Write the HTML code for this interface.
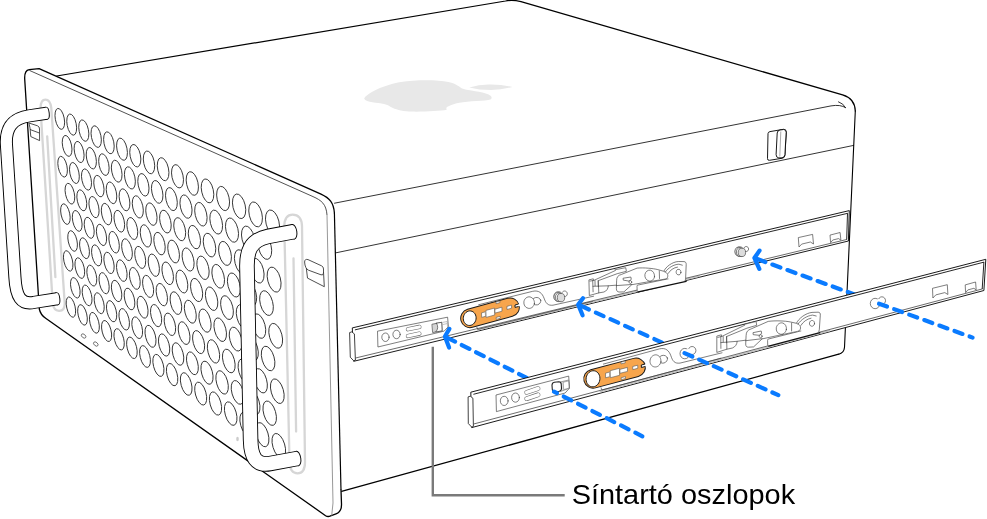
<!DOCTYPE html>
<html lang="hu"><head><meta charset="utf-8"><title>Síntartó oszlopok</title>
<style>html,body{margin:0;padding:0;background:#fff}svg{display:block}</style>
</head><body>
<svg width="987" height="519" viewBox="0 0 987 519">
<rect width="987" height="519" fill="#fff"/>
<g fill="none" stroke="#000" stroke-linejoin="round" stroke-linecap="round">
<path stroke-width="1.25" d="M56.7 76 L505.5 1 Q512.3 -0.6 521 1.6 L842.6 94.9 Q854.8 98.5 855.3 111"/>
<path stroke-width="1.1" d="M855.3 111 L844.5 347.4 Q844 353 838.7 354.2"/>
<path stroke-width="1.3" d="M838.7 354.2 L341.5 491.4"/>
<path stroke-width="0.8" d="M334.5 203.2 L831 105.9 Q840.5 104.3 845.5 107.6 M838.5 101.8 Q843.5 103.5 845.5 107.6"/>
<path stroke-width="0.8" d="M336 252.8 L853.6 145.4"/>
</g>
<path fill="#e8e8e8" d="M364.2 98.8 C366 93 385 84.5 401 81.9 C415 79.8 437 79.6 448.5 81.9 C457 83.6 459 87 463 88.8 C468 90.6 482 91.4 488.6 94.6 C492 96.2 492.6 98.6 490.4 99.5 C486 101 468 101 459.4 102.8 C452 104.4 446.5 106.5 446.3 108.3 L446.7 109.8 C440 111 425 111.8 412 111.6 C404 111.4 397 109.8 392.9 107.9 C389 106 388 105 384 104 C378 102.6 366 102.5 364.2 98.8 Z"/>
<path fill="#e8e8e8" d="M469.3 87.5 Q480 84.2 491 84.6 Q503 84.9 512.4 86.9 Q502 90 491 90.1 Q479 90.1 469.3 87.5 Z"/>
<g fill="#fff" stroke="#000" stroke-width="0.9" stroke-linejoin="round">
<path d="M768 133.6 Q768 132 770 131.6 L783.5 129.3 Q786 129 786.3 132 L784.9 155.5 Q784.6 157.8 782.5 158.2 L769.5 160.3 Q767.4 160.6 767.5 158.5 Z"/>
<path d="M777.2 133 Q777.4 130.4 780 130 L783.6 129.5 Q786.2 129.4 786.2 132.4 L784.9 154.8 Q784.6 157.6 782 157.8 L778.8 157.9 Q776 157.6 776.1 154.6 Z"/>
<path d="M780.8 131.5 L779.8 156.5" stroke-width="0.5" stroke="#555"/>
</g>
<path fill="#fff" stroke="none" d="M46 319.2 Q40.5 315.5 39.3 309 L24.7 79 Q24.3 70.5 29.2 69.7 L39.1 68.6 L321 194.1 C329.5 198 333.7 202.5 334.4 213 L341.5 504 C341.7 509.6 340 512.4 336 513.9 L330.6 515.9 Q328 517.2 325.6 515.7 Z"/>
<path fill="none" stroke="#000" stroke-width="1.3" stroke-linejoin="round" stroke-linecap="round" d="M341 490 L341.5 504 C341.7 509.6 340 512.4 336 513.9 L330.6 515.9 Q328 517.2 325.6 515.7 L46 318.5 Q40.5 315 39.3 309 L24.7 79 Q24.3 70.5 29.2 69.7 L39.1 68.6 L321 194.1 C329.5 198 333.7 202.5 334.4 213"/>
<path fill="none" stroke="#000" stroke-width="1.2" d="M334.4 213 L341 490"/>
<path fill="none" stroke="#333" stroke-width="0.85" d="M29.4 70.4 L313 196.6 C321.5 200.4 326.2 204 327 215"/>
<path fill="none" stroke="#8c8c8c" stroke-width="0.9" d="M327 215 L333 503 L331.7 515.6"/>
<g fill="none" stroke="#d6d6d6" stroke-width="2.3" stroke-linecap="round">
<path d="M40.5 108 Q40.8 99.7 45.4 99.7 Q50.2 99.7 51.3 108 L64.7 303 Q65 311 59 310.8 Q53.5 310.6 52.7 303 Z"/>
<path d="M47.2 136.4 L55.4 277.2"/>
<path d="M284.3 226 Q284.6 214.6 292.6 214.6 Q301.5 214.6 302 226 L305 462 Q305 473.3 297.6 473.3 Q290 473.3 289.5 462 Z"/>
<path d="M293.5 258.3 L296.1 431.6"/>
</g>
<g fill="#fff" stroke="#333" stroke-width="0.9">
<ellipse cx="59.8" cy="118.9" rx="10.63" ry="4.46" transform="rotate(79.1 59.8 118.9)"/>
<ellipse cx="71.7" cy="124.6" rx="10.75" ry="4.56" transform="rotate(79.0 71.7 124.6)"/>
<ellipse cx="83.8" cy="130.6" rx="10.88" ry="4.67" transform="rotate(78.9 83.8 130.6)"/>
<ellipse cx="96.2" cy="136.6" rx="11.01" ry="4.78" transform="rotate(78.8 96.2 136.6)"/>
<ellipse cx="108.9" cy="142.8" rx="11.15" ry="4.90" transform="rotate(78.6 108.9 142.8)"/>
<ellipse cx="122.0" cy="149.2" rx="11.29" ry="5.02" transform="rotate(78.5 122.0 149.2)"/>
<ellipse cx="135.3" cy="155.7" rx="11.43" ry="5.15" transform="rotate(78.4 135.3 155.7)"/>
<ellipse cx="149.0" cy="162.4" rx="11.58" ry="5.28" transform="rotate(78.2 149.0 162.4)"/>
<ellipse cx="163.1" cy="169.2" rx="11.73" ry="5.41" transform="rotate(78.0 163.1 169.2)"/>
<ellipse cx="177.5" cy="176.3" rx="11.88" ry="5.55" transform="rotate(77.9 177.5 176.3)"/>
<ellipse cx="192.3" cy="183.5" rx="12.04" ry="5.70" transform="rotate(77.7 192.3 183.5)"/>
<ellipse cx="207.5" cy="190.9" rx="12.20" ry="5.85" transform="rotate(77.5 207.5 190.9)"/>
<ellipse cx="223.1" cy="198.5" rx="12.37" ry="6.01" transform="rotate(77.3 223.1 198.5)"/>
<ellipse cx="239.1" cy="206.3" rx="12.55" ry="6.17" transform="rotate(77.0 239.1 206.3)"/>
<ellipse cx="255.6" cy="214.4" rx="12.73" ry="6.34" transform="rotate(76.8 255.6 214.4)"/>
<ellipse cx="272.5" cy="222.6" rx="12.91" ry="6.52" transform="rotate(76.5 272.5 222.6)"/>
<ellipse cx="67.1" cy="145.9" rx="10.65" ry="4.48" transform="rotate(78.7 67.1 145.9)"/>
<ellipse cx="79.1" cy="152.0" rx="10.78" ry="4.58" transform="rotate(78.6 79.1 152.0)"/>
<ellipse cx="91.3" cy="158.2" rx="10.91" ry="4.69" transform="rotate(78.5 91.3 158.2)"/>
<ellipse cx="103.9" cy="164.6" rx="11.04" ry="4.81" transform="rotate(78.3 103.9 164.6)"/>
<ellipse cx="116.7" cy="171.2" rx="11.18" ry="4.92" transform="rotate(78.2 116.7 171.2)"/>
<ellipse cx="129.9" cy="177.9" rx="11.32" ry="5.04" transform="rotate(78.1 129.9 177.9)"/>
<ellipse cx="143.4" cy="184.8" rx="11.46" ry="5.17" transform="rotate(77.9 143.4 184.8)"/>
<ellipse cx="157.2" cy="191.9" rx="11.61" ry="5.30" transform="rotate(77.7 157.2 191.9)"/>
<ellipse cx="171.4" cy="199.1" rx="11.76" ry="5.44" transform="rotate(77.5 171.4 199.1)"/>
<ellipse cx="186.0" cy="206.6" rx="11.92" ry="5.58" transform="rotate(77.3 186.0 206.6)"/>
<ellipse cx="200.9" cy="214.2" rx="12.08" ry="5.72" transform="rotate(77.1 200.9 214.2)"/>
<ellipse cx="216.2" cy="222.1" rx="12.25" ry="5.87" transform="rotate(76.9 216.2 222.1)"/>
<ellipse cx="232.0" cy="230.1" rx="12.42" ry="6.03" transform="rotate(76.7 232.0 230.1)"/>
<ellipse cx="248.2" cy="238.4" rx="12.60" ry="6.20" transform="rotate(76.5 248.2 238.4)"/>
<ellipse cx="264.8" cy="246.9" rx="12.78" ry="6.37" transform="rotate(76.2 264.8 246.9)"/>
<ellipse cx="62.6" cy="166.7" rx="10.56" ry="4.39" transform="rotate(78.5 62.6 166.7)"/>
<ellipse cx="74.4" cy="173.0" rx="10.68" ry="4.50" transform="rotate(78.4 74.4 173.0)"/>
<ellipse cx="86.5" cy="179.5" rx="10.81" ry="4.60" transform="rotate(78.2 86.5 179.5)"/>
<ellipse cx="98.9" cy="186.1" rx="10.94" ry="4.71" transform="rotate(78.1 98.9 186.1)"/>
<ellipse cx="111.5" cy="192.8" rx="11.08" ry="4.83" transform="rotate(77.9 111.5 192.8)"/>
<ellipse cx="124.5" cy="199.8" rx="11.21" ry="4.94" transform="rotate(77.8 124.5 199.8)"/>
<ellipse cx="137.8" cy="206.9" rx="11.36" ry="5.07" transform="rotate(77.6 137.8 206.9)"/>
<ellipse cx="151.4" cy="214.1" rx="11.50" ry="5.19" transform="rotate(77.4 151.4 214.1)"/>
<ellipse cx="165.4" cy="221.6" rx="11.65" ry="5.32" transform="rotate(77.2 165.4 221.6)"/>
<ellipse cx="179.7" cy="229.2" rx="11.81" ry="5.46" transform="rotate(77.0 179.7 229.2)"/>
<ellipse cx="194.4" cy="237.1" rx="11.97" ry="5.60" transform="rotate(76.8 194.4 237.1)"/>
<ellipse cx="209.5" cy="245.1" rx="12.13" ry="5.75" transform="rotate(76.6 209.5 245.1)"/>
<ellipse cx="225.0" cy="253.4" rx="12.30" ry="5.90" transform="rotate(76.4 225.0 253.4)"/>
<ellipse cx="241.0" cy="261.9" rx="12.47" ry="6.06" transform="rotate(76.1 241.0 261.9)"/>
<ellipse cx="257.3" cy="270.7" rx="12.65" ry="6.22" transform="rotate(75.9 257.3 270.7)"/>
<ellipse cx="274.1" cy="279.6" rx="12.84" ry="6.39" transform="rotate(75.6 274.1 279.6)"/>
<ellipse cx="69.9" cy="193.7" rx="10.59" ry="4.41" transform="rotate(78.1 69.9 193.7)"/>
<ellipse cx="81.8" cy="200.3" rx="10.71" ry="4.51" transform="rotate(78.0 81.8 200.3)"/>
<ellipse cx="94.0" cy="207.1" rx="10.84" ry="4.62" transform="rotate(77.8 94.0 207.1)"/>
<ellipse cx="106.5" cy="214.1" rx="10.97" ry="4.73" transform="rotate(77.7 106.5 214.1)"/>
<ellipse cx="119.3" cy="221.2" rx="11.11" ry="4.85" transform="rotate(77.5 119.3 221.2)"/>
<ellipse cx="132.3" cy="228.5" rx="11.25" ry="4.96" transform="rotate(77.3 132.3 228.5)"/>
<ellipse cx="145.8" cy="235.9" rx="11.39" ry="5.09" transform="rotate(77.2 145.8 235.9)"/>
<ellipse cx="159.5" cy="243.6" rx="11.54" ry="5.21" transform="rotate(77.0 159.5 243.6)"/>
<ellipse cx="173.6" cy="251.5" rx="11.69" ry="5.34" transform="rotate(76.8 173.6 251.5)"/>
<ellipse cx="188.1" cy="259.5" rx="11.85" ry="5.48" transform="rotate(76.6 188.1 259.5)"/>
<ellipse cx="203.0" cy="267.8" rx="12.01" ry="5.62" transform="rotate(76.3 203.0 267.8)"/>
<ellipse cx="218.2" cy="276.3" rx="12.18" ry="5.77" transform="rotate(76.1 218.2 276.3)"/>
<ellipse cx="233.9" cy="285.0" rx="12.35" ry="5.92" transform="rotate(75.8 233.9 285.0)"/>
<ellipse cx="250.0" cy="293.9" rx="12.53" ry="6.08" transform="rotate(75.6 250.0 293.9)"/>
<ellipse cx="266.5" cy="303.1" rx="12.71" ry="6.24" transform="rotate(75.3 266.5 303.1)"/>
<ellipse cx="65.4" cy="214.1" rx="10.49" ry="4.33" transform="rotate(77.9 65.4 214.1)"/>
<ellipse cx="77.2" cy="220.9" rx="10.62" ry="4.43" transform="rotate(77.7 77.2 220.9)"/>
<ellipse cx="89.2" cy="227.8" rx="10.75" ry="4.53" transform="rotate(77.6 89.2 227.8)"/>
<ellipse cx="101.5" cy="234.9" rx="10.88" ry="4.64" transform="rotate(77.4 101.5 234.9)"/>
<ellipse cx="114.1" cy="242.2" rx="11.01" ry="4.75" transform="rotate(77.3 114.1 242.2)"/>
<ellipse cx="127.0" cy="249.7" rx="11.15" ry="4.86" transform="rotate(77.1 127.0 249.7)"/>
<ellipse cx="140.2" cy="257.4" rx="11.29" ry="4.98" transform="rotate(76.9 140.2 257.4)"/>
<ellipse cx="153.8" cy="265.2" rx="11.44" ry="5.10" transform="rotate(76.7 153.8 265.2)"/>
<ellipse cx="167.7" cy="273.3" rx="11.59" ry="5.23" transform="rotate(76.5 167.7 273.3)"/>
<ellipse cx="181.9" cy="281.5" rx="11.74" ry="5.36" transform="rotate(76.3 181.9 281.5)"/>
<ellipse cx="196.6" cy="290.0" rx="11.90" ry="5.50" transform="rotate(76.1 196.6 290.0)"/>
<ellipse cx="211.6" cy="298.7" rx="12.06" ry="5.64" transform="rotate(75.8 211.6 298.7)"/>
<ellipse cx="227.0" cy="307.6" rx="12.23" ry="5.79" transform="rotate(75.6 227.0 307.6)"/>
<ellipse cx="242.8" cy="316.7" rx="12.41" ry="5.94" transform="rotate(75.3 242.8 316.7)"/>
<ellipse cx="259.0" cy="326.1" rx="12.59" ry="6.10" transform="rotate(75.0 259.0 326.1)"/>
<ellipse cx="275.7" cy="335.8" rx="12.78" ry="6.26" transform="rotate(74.7 275.7 335.8)"/>
<ellipse cx="72.6" cy="241.0" rx="10.53" ry="4.35" transform="rotate(77.5 72.6 241.0)"/>
<ellipse cx="84.5" cy="248.2" rx="10.65" ry="4.45" transform="rotate(77.3 84.5 248.2)"/>
<ellipse cx="96.6" cy="255.4" rx="10.78" ry="4.55" transform="rotate(77.2 96.6 255.4)"/>
<ellipse cx="109.0" cy="262.9" rx="10.91" ry="4.66" transform="rotate(77.0 109.0 262.9)"/>
<ellipse cx="121.8" cy="270.6" rx="11.05" ry="4.77" transform="rotate(76.8 121.8 270.6)"/>
<ellipse cx="134.8" cy="278.4" rx="11.19" ry="4.88" transform="rotate(76.7 134.8 278.4)"/>
<ellipse cx="148.1" cy="286.4" rx="11.33" ry="5.00" transform="rotate(76.5 148.1 286.4)"/>
<ellipse cx="161.8" cy="294.6" rx="11.48" ry="5.12" transform="rotate(76.3 161.8 294.6)"/>
<ellipse cx="175.9" cy="303.1" rx="11.63" ry="5.25" transform="rotate(76.0 175.9 303.1)"/>
<ellipse cx="190.3" cy="311.7" rx="11.79" ry="5.38" transform="rotate(75.8 190.3 311.7)"/>
<ellipse cx="205.0" cy="320.6" rx="11.95" ry="5.52" transform="rotate(75.6 205.0 320.6)"/>
<ellipse cx="220.2" cy="329.7" rx="12.12" ry="5.66" transform="rotate(75.3 220.2 329.7)"/>
<ellipse cx="235.7" cy="339.1" rx="12.29" ry="5.81" transform="rotate(75.0 235.7 339.1)"/>
<ellipse cx="251.7" cy="348.7" rx="12.47" ry="5.96" transform="rotate(74.8 251.7 348.7)"/>
<ellipse cx="268.1" cy="358.5" rx="12.65" ry="6.12" transform="rotate(74.5 268.1 358.5)"/>
<ellipse cx="68.2" cy="260.9" rx="10.44" ry="4.26" transform="rotate(77.3 68.2 260.9)"/>
<ellipse cx="79.8" cy="268.1" rx="10.56" ry="4.36" transform="rotate(77.1 79.8 268.1)"/>
<ellipse cx="91.8" cy="275.6" rx="10.69" ry="4.46" transform="rotate(77.0 91.8 275.6)"/>
<ellipse cx="104.1" cy="283.2" rx="10.82" ry="4.56" transform="rotate(76.8 104.1 283.2)"/>
<ellipse cx="116.6" cy="291.0" rx="10.95" ry="4.67" transform="rotate(76.6 116.6 291.0)"/>
<ellipse cx="129.5" cy="299.0" rx="11.09" ry="4.78" transform="rotate(76.4 129.5 299.0)"/>
<ellipse cx="142.6" cy="307.2" rx="11.23" ry="4.90" transform="rotate(76.2 142.6 307.2)"/>
<ellipse cx="156.1" cy="315.6" rx="11.38" ry="5.02" transform="rotate(76.0 156.1 315.6)"/>
<ellipse cx="169.9" cy="324.3" rx="11.53" ry="5.14" transform="rotate(75.8 169.9 324.3)"/>
<ellipse cx="184.1" cy="333.1" rx="11.68" ry="5.27" transform="rotate(75.6 184.1 333.1)"/>
<ellipse cx="198.6" cy="342.1" rx="11.84" ry="5.40" transform="rotate(75.3 198.6 342.1)"/>
<ellipse cx="213.5" cy="351.4" rx="12.01" ry="5.53" transform="rotate(75.1 213.5 351.4)"/>
<ellipse cx="228.8" cy="361.0" rx="12.18" ry="5.68" transform="rotate(74.8 228.8 361.0)"/>
<ellipse cx="244.6" cy="370.8" rx="12.35" ry="5.82" transform="rotate(74.5 244.6 370.8)"/>
<ellipse cx="260.7" cy="380.8" rx="12.54" ry="5.97" transform="rotate(74.2 260.7 380.8)"/>
<ellipse cx="277.3" cy="391.2" rx="12.72" ry="6.13" transform="rotate(73.9 277.3 391.2)"/>
<ellipse cx="75.3" cy="287.8" rx="10.47" ry="4.28" transform="rotate(76.9 75.3 287.8)"/>
<ellipse cx="87.1" cy="295.4" rx="10.60" ry="4.38" transform="rotate(76.7 87.1 295.4)"/>
<ellipse cx="99.2" cy="303.2" rx="10.73" ry="4.48" transform="rotate(76.6 99.2 303.2)"/>
<ellipse cx="111.6" cy="311.2" rx="10.86" ry="4.58" transform="rotate(76.4 111.6 311.2)"/>
<ellipse cx="124.2" cy="319.3" rx="11.00" ry="4.69" transform="rotate(76.2 124.2 319.3)"/>
<ellipse cx="137.2" cy="327.7" rx="11.14" ry="4.80" transform="rotate(76.0 137.2 327.7)"/>
<ellipse cx="150.5" cy="336.3" rx="11.28" ry="4.91" transform="rotate(75.8 150.5 336.3)"/>
<ellipse cx="164.1" cy="345.0" rx="11.43" ry="5.03" transform="rotate(75.6 164.1 345.0)"/>
<ellipse cx="178.0" cy="354.0" rx="11.58" ry="5.15" transform="rotate(75.3 178.0 354.0)"/>
<ellipse cx="192.4" cy="363.3" rx="11.74" ry="5.28" transform="rotate(75.1 192.4 363.3)"/>
<ellipse cx="207.0" cy="372.7" rx="11.90" ry="5.41" transform="rotate(74.9 207.0 372.7)"/>
<ellipse cx="222.1" cy="382.4" rx="12.07" ry="5.55" transform="rotate(74.6 222.1 382.4)"/>
<ellipse cx="237.6" cy="392.4" rx="12.24" ry="5.69" transform="rotate(74.3 237.6 392.4)"/>
<ellipse cx="253.4" cy="402.7" rx="12.42" ry="5.84" transform="rotate(74.0 253.4 402.7)"/>
<ellipse cx="269.7" cy="413.2" rx="12.61" ry="5.99" transform="rotate(73.7 269.7 413.2)"/>
<ellipse cx="70.9" cy="307.1" rx="10.39" ry="4.20" transform="rotate(76.7 70.9 307.1)"/>
<ellipse cx="82.5" cy="314.9" rx="10.51" ry="4.29" transform="rotate(76.5 82.5 314.9)"/>
<ellipse cx="94.4" cy="322.8" rx="10.64" ry="4.39" transform="rotate(76.4 94.4 322.8)"/>
<ellipse cx="106.6" cy="331.0" rx="10.77" ry="4.49" transform="rotate(76.2 106.6 331.0)"/>
<ellipse cx="119.1" cy="339.3" rx="10.90" ry="4.59" transform="rotate(76.0 119.1 339.3)"/>
<ellipse cx="131.9" cy="347.8" rx="11.04" ry="4.70" transform="rotate(75.8 131.9 347.8)"/>
<ellipse cx="145.0" cy="356.5" rx="11.18" ry="4.81" transform="rotate(75.6 145.0 356.5)"/>
<ellipse cx="158.4" cy="365.4" rx="11.33" ry="4.93" transform="rotate(75.4 158.4 365.4)"/>
<ellipse cx="172.1" cy="374.6" rx="11.48" ry="5.05" transform="rotate(75.1 172.1 374.6)"/>
<ellipse cx="186.2" cy="384.0" rx="11.64" ry="5.17" transform="rotate(74.9 186.2 384.0)"/>
<ellipse cx="200.7" cy="393.6" rx="11.80" ry="5.30" transform="rotate(74.6 200.7 393.6)"/>
<ellipse cx="215.5" cy="403.5" rx="11.96" ry="5.43" transform="rotate(74.4 215.5 403.5)"/>
<ellipse cx="230.7" cy="413.6" rx="12.13" ry="5.56" transform="rotate(74.1 230.7 413.6)"/>
<ellipse cx="246.3" cy="424.1" rx="12.31" ry="5.70" transform="rotate(73.8 246.3 424.1)"/>
<ellipse cx="262.3" cy="434.7" rx="12.49" ry="5.85" transform="rotate(73.5 262.3 434.7)"/>
<ellipse cx="278.8" cy="445.7" rx="12.68" ry="6.00" transform="rotate(73.2 278.8 445.7)"/>
</g>
<g fill="none" stroke="#444" stroke-width="0.7">
<ellipse cx="83.6" cy="336" rx="2.6" ry="1.7" transform="rotate(40 83.6 336)"/>
<ellipse cx="95.8" cy="344" rx="2.6" ry="1.7" transform="rotate(40 95.8 344)"/>
</g>
<ellipse cx="237.5" cy="439" rx="1.3" ry="2.2" fill="#ccc"/>
<g fill="#fff" stroke="#222" stroke-width="0.8" stroke-linejoin="round">
<path d="M28.9 123 L37.5 125.8 Q39.6 126.6 39.5 129 L39.6 140.6 L30.8 136.6 L30 128 Z"/>
<path d="M30 129.5 L39.4 133"/>
</g>
<g fill="#fff" stroke="#222" stroke-width="0.8" stroke-linejoin="round">
<path d="M306.3 268 L307.5 278.1 L324.3 286.7 L323.5 272"/>
<path d="M304.6 262 Q304.8 258.6 308 259.6 L321.5 265.8 Q323.6 266.8 323.5 269 L323.5 273 Q323.4 275.6 321 274.8 L308.5 270.2 Q305 268.6 304.6 262 Z"/>
</g>
<path d="M46.6 113.2 L29 115.9 C12 118.6 5.6 128 6.4 144 L14.9 277 C16 297 21 305 34 302.4 L57.2 298.7" fill="none" stroke="#000" stroke-width="13.1" stroke-linecap="butt" stroke-linejoin="round"/>
<ellipse cx="46.6" cy="113.2" rx="2.6" ry="6.1" fill="#fff" stroke="#000" stroke-width="0.95" transform="rotate(-7 46.6 113.2)"/>
<ellipse cx="57.2" cy="298.7" rx="2.6" ry="6.1" fill="#fff" stroke="#000" stroke-width="0.95" transform="rotate(-7 57.2 298.7)"/>
<path d="M46.6 113.2 L29 115.9 C12 118.6 5.6 128 6.4 144 L14.9 277 C16 297 21 305 34 302.4 L57.2 298.7" fill="none" stroke="#fff" stroke-width="11.2" stroke-linecap="butt" stroke-linejoin="round"/>
<path d="M293.4 231.7 L268 236.4 C250 240 246.5 252 247 268 L250.6 440 C251 457 256 466 270 463.6 L297.4 458.5" fill="none" stroke="#000" stroke-width="15.5" stroke-linecap="butt" stroke-linejoin="round"/>
<ellipse cx="293.4" cy="231.7" rx="3.4" ry="7.3" fill="#fff" stroke="#000" stroke-width="0.95" transform="rotate(-9 293.4 231.7)"/>
<ellipse cx="297.4" cy="458.5" rx="3.4" ry="7.3" fill="#fff" stroke="#000" stroke-width="0.95" transform="rotate(-9 297.4 458.5)"/>
<path d="M293.4 231.7 L268 236.4 C250 240 246.5 252 247 268 L250.6 440 C251 457 256 466 270 463.6 L297.4 458.5" fill="none" stroke="#fff" stroke-width="13.7" stroke-linecap="butt" stroke-linejoin="round"/>
<path d="M352.3 327.9 L849.3 210.6 L848.4 241.0 L353.7 361.3 Z" fill="#fff" stroke="#000" stroke-width="0.9" stroke-linejoin="round"/>
<path d="M354.4 333.9 Q351.5 330.5 349.6 332.6 L350.3 357.2 L353.7 360.8 L355.4 360.1 Z" fill="#fff" stroke="#111" stroke-width="0.8" stroke-linejoin="round"/>
<path d="M477.3 329.9 L700.0 276.0" fill="none" stroke="#c2c2c2" stroke-width="1.5"/>
<g fill="none" stroke="#000" stroke-width="0.85">
<path d="M354.9 329.9 L847.7 213.3"/>
<path d="M355.6 358.0 L847.0 239.4" stroke="#3a3a3a" stroke-width="0.75"/>
<path d="M847.5 213.3 L846.7 239.4"/>
</g>
<g fill="none" stroke="#3c3c3c" stroke-width="0.66" stroke-linejoin="round" stroke-linecap="round">
<path d="M 377.9 331.1 L 447.6 317.2 L 448.4 326.6 L 444.2 331.1 L 378.3 346.9 Z"/>
<path d="M 389.1 337.2 C 389.1 339.6 387.5 341.5 385.5 341.5 C 383.4 341.5 381.8 339.6 381.8 337.2 C 381.8 334.9 383.4 333.0 385.5 333.0 C 387.5 333.0 389.1 334.9 389.1 337.2 Z"/>
<path d="M 400.2 334.4 C 400.2 336.8 398.5 338.7 396.5 338.7 C 394.5 338.7 392.9 336.8 392.9 334.4 C 392.9 332.1 394.5 330.2 396.5 330.2 C 398.5 330.2 400.2 332.1 400.2 334.4 Z"/>
<path d="M 407.9 329.3 L 419.4 326.9" stroke="#666" stroke-width="4.2"/>
<path d="M 407.9 329.3 L 419.4 326.9" stroke="#fff" stroke-width="3.1"/>
<path d="M 407.9 336.0 L 419.4 333.6" stroke="#666" stroke-width="4.2"/>
<path d="M 407.9 336.0 L 419.4 333.6" stroke="#fff" stroke-width="3.1"/>
<path d="M 432.3 324.2 L 441.7 322.3 L 442.1 330.8 L 433.0 332.5 Z" fill="#d4d4d4"/>
<path d="M 436.6 323.2 L 441.7 322.3 L 442.1 330.8 L 435.7 332.0 Q 439.3 328.1 436.6 323.2 Z" fill="#fff"/>
<path d="M 443.0 322.3 L 447.2 321.5 L 447.6 328.8 M 443.0 324.5 L 446.6 323.7" stroke="#888" stroke-width="0.5"/>
</g>
<path d="M470.0 318.3 L510.0 307.3" stroke="#1a1a1a" stroke-width="19.6" stroke-linecap="round" fill="none"/>
<path d="M470.0 318.3 L510.0 307.3" stroke="#f7a54c" stroke-width="17.7" stroke-linecap="round" fill="none"/>
<path d="M476.02 319.20 C475.39 323.18 472.05 325.96 468.56 325.41 C465.07 324.86 462.75 321.18 463.38 317.20 C464.01 313.22 467.35 310.44 470.84 310.99 C474.33 311.54 476.65 315.22 476.02 319.20 Z" fill="#fff" stroke="#1a1a1a" stroke-width="1"/>
<g fill="#fff" stroke="#555" stroke-width="0.6" stroke-linejoin="round">
<path d="M481.5 312.9 L485.3 311.8 L485.5 316.3 L481.7 317.4 Z"/>
<path d="M485.3 311.8 L486.3 311.5 L486.5 316.0 L485.5 316.3 Z" fill="#ddd" stroke="none"/>
<path d="M485.9 310.4 L494.5 308.1 L494.7 315.0 L486.1 317.4 Z"/>
<path d="M494.9 309.2 L501.9 307.2 L502.0 311.2 L495.0 313.1 Z"/>
<path d="M495.9 302.0 L499.9 300.9 L500.0 302.6 L496.0 303.7 Z"/>
<path d="M496.2 317.4 L500.2 316.3 L500.2 318.3 L496.2 319.4 Z"/>
<path d="M506.9 306.4 L511.5 305.1 L511.6 308.2 L507.0 309.5 Z"/>
<path d="M515.0 305.0 L522.0 303.1 L522.0 305.5 L515.0 307.4 Z" stroke="none"/>
<path d="M518.6 304.0 L515.0 305.0 L515.0 307.4 L518.6 306.5" fill="none" stroke="#1a1a1a" stroke-width="1"/>
</g>
<g fill="none" stroke="#3c3c3c" stroke-width="0.66" stroke-linejoin="round" stroke-linecap="round">
<path d="M 540.7 300.1 C 541.2 302.1 539.8 304.2 537.5 304.8 C 535.1 305.3 532.8 304.1 532.3 302.2 C 531.6 300.2 533.1 298.1 535.4 297.6 C 537.7 297.0 540.0 298.2 540.7 300.1 Z"/>
<path d="M 534.4 303.7 C 533.9 306.8 531.1 308.9 528.2 308.3 C 525.3 307.8 523.4 304.8 523.9 301.7 C 524.4 298.5 527.2 296.4 530.0 296.9 C 532.9 297.6 534.9 300.6 534.4 303.7 Z" fill="#fff"/>
<path d="M 478.7 304.7 L 532.7 291.3 C 539.1 289.9 542.2 293.4 544.0 298.1 C 545.9 303.4 547.8 305.7 553.0 305.2 L 593.6 296.2"/>
<path d="M 476.8 327.1 L 477.7 329.4 L 592.5 301.4"/>
</g>
<g fill="none" stroke="#3c3c3c" stroke-width="0.66" stroke-linejoin="round" stroke-linecap="round">
<path d="M 589.3 279.8 L 593.3 278.8 L 593.6 280.5 L 615.4 270.5 L 614.8 269.8 L 625.7 267.7 L 626.4 271.3 L 617.2 273.7 L 598.2 280.7 L 598.8 292.9 L 589.7 295.4 Z" fill="#fff"/>
<path d="M 589.9 281.1 L 593.4 280.5 M 592.7 280.6 L 593.1 291.8 M 595.0 280.5 L 595.1 285.7 M 598.2 280.7 L 598.3 286.7"/>
<path d="M 593.0 286.3 L 608.3 285.8 C 608.1 288.7 606.7 291.0 603.9 292.0 L 598.8 292.9 M 608.3 285.8 L 616.9 285.1"/>
<path d="M 637.2 291.0 L 637.0 286.4 Q 636.8 285.1 638.1 285.0 L 668.3 278.8 L 685.7 280.7 L 686.2 281.6 L 638.3 291.9 Q 637.2 291.9 637.2 291.0 Z" stroke="none" fill="#fff"/>
<path d="M 638.3 291.9 Q 637.2 291.9 637.2 291.0 L 637.0 286.4 Q 636.8 285.1 638.1 285.0 L 668.3 278.8"/>
<path d="M 638.3 291.9 L 686.2 281.4" stroke="#111" stroke-width="1.1"/>
<path d="M 663.8 271.3 C 665.8 266.5 672.5 261.9 678.3 261.5 L 684.0 261.6 C 685.7 261.7 686.3 262.9 686.2 264.6 L 685.6 278.7 C 685.4 279.9 685.2 280.7 684.5 281.0 L 668.3 278.4 Z" stroke="none" fill="#fff"/>
<path d="M 663.8 271.3 C 665.8 266.5 672.5 261.9 678.3 261.5 L 684.0 261.6 C 685.7 261.7 686.3 262.9 686.2 264.6 L 685.6 278.7 C 685.4 279.9 685.2 280.7 684.5 281.3"/>
<path d="M 616.6 280.4 C 616.5 277.2 618.1 275.2 621.3 274.5 L 637.1 268.1 C 644.0 267.5 653.2 268.4 657.8 269.6 L 663.8 271.3 C 666.5 272.2 668.5 274.2 667.6 277.2 Q 667.2 278.9 665.0 279.1 L 646.6 282.1 L 631.8 284.7 L 623.9 291.9 L 619.1 292.0 C 617.3 291.9 616.5 290.9 616.4 289.2 Z" fill="#fff"/>
<path d="M 654.5 276.8 C 654.0 279.7 651.5 281.6 649.0 281.0 C 646.3 280.4 644.5 277.5 644.9 274.6 C 645.4 271.6 647.9 269.7 650.5 270.2 C 653.1 270.8 654.9 273.8 654.5 276.8 Z"/>
<path d="M 680.9 272.6 C 680.7 274.2 679.5 275.2 678.1 274.8 C 676.8 274.6 675.9 273.1 676.2 271.5 C 676.4 270.0 677.6 269.0 679.0 269.4 C 680.3 269.6 681.2 271.1 680.9 272.6 Z"/>
<path d="M 631.7 282.1 C 631.7 282.9 631.2 283.6 630.4 283.5 C 629.7 283.5 629.0 282.8 629.0 281.9 C 629.0 281.2 629.6 280.5 630.4 280.6 C 631.1 280.6 631.7 281.3 631.7 282.1 Z"/>
<path d="M 623.4 278.2 L 630.8 277.0 L 631.3 279.4 L 629.0 281.1 L 623.7 280.2 Z"/>
<path d="M 659.3 270.9 L 659.5 278.5 M 616.3 285.6 L 631.8 284.5"/>
<path d="M 665.3 272.1 C 668.1 267.8 673.7 264.4 678.9 264.2 L 682.3 265.2 M 668.2 273.4 C 669.9 270.3 673.8 267.5 677.5 267.1"/>
</g>
<g fill="#fff" stroke="#3c3c3c" stroke-width="0.66" stroke-linejoin="round">
<path d="M 798.3 237.6 L 812.6 234.4 L 813.5 244.0 L 810.4 242.0 L 801.7 244.1 L 799.0 247.0 Z"/>
<path d="M 830.0 235.1 L 840.1 232.5 L 840.9 240.2 L 838.6 238.6 L 832.8 240.0 L 830.6 242.6 Z"/>
</g>
<g stroke="#3c3c3c" stroke-width="0.66" fill="#fff">
<path d="M 567.3 293.8 C 567.3 295.4 566.1 296.6 564.6 296.6 C 563.1 296.6 561.9 295.4 561.9 293.8 C 561.9 292.2 563.1 291.0 564.6 291.0 C 566.1 291.0 567.3 292.2 567.3 293.8 Z"/>
<path d="M 563.0 296.6 C 563.0 299.3 560.9 301.6 558.4 301.6 C 555.9 301.6 553.8 299.3 553.8 296.6 C 553.8 293.9 555.9 291.6 558.4 291.6 C 560.9 291.6 563.0 293.9 563.0 296.6 Z"/>
<path d="M 564.1 294.1 C 564.6 295.3 563.9 296.6 562.6 297.1 C 561.4 297.6 560.0 297.1 559.5 296.0 C 559.0 294.9 559.7 293.5 561.0 293.0 C 562.2 292.5 563.7 293.0 564.1 294.1 Z" stroke="none"/>
</g>
<g stroke="#3c3c3c" stroke-width="0.66" fill="#fff">
<path d="M 748.6 249.0 C 748.6 250.4 747.5 251.5 746.2 251.5 C 744.9 251.5 743.8 250.4 743.8 249.0 C 743.8 247.6 744.9 246.5 746.2 246.5 C 747.5 246.5 748.6 247.6 748.6 249.0 Z"/>
<path d="M 744.1 251.6 C 744.1 254.3 742.1 256.5 739.6 256.5 C 737.1 256.5 735.1 254.3 735.1 251.6 C 735.1 248.9 737.1 246.7 739.6 246.7 C 742.1 246.7 744.1 248.9 744.1 251.6 Z"/>
<path d="M 745.3 249.3 C 745.7 250.3 745.1 251.5 744.0 252.0 C 742.8 252.4 741.6 252.0 741.2 251.0 C 740.8 250.0 741.4 248.8 742.5 248.3 C 743.6 247.9 744.9 248.3 745.3 249.3 Z" stroke="none"/>
</g>
<ellipse cx="557.7" cy="296.7" rx="3.6" ry="4.2" fill="#fff" stroke="#3c3c3c" stroke-width="0.66"/><ellipse cx="559.1" cy="297.2" rx="3.6" ry="4.2" fill="#fff" stroke="#3c3c3c" stroke-width="0.66"/><ellipse cx="561.0" cy="297.6" rx="3.7" ry="4.2" fill="#dcdcdc" stroke="#3c3c3c" stroke-width="0.66"/>
<ellipse cx="738.6" cy="251.5" rx="3.6" ry="4.2" fill="#fff" stroke="#3c3c3c" stroke-width="0.66"/><ellipse cx="740.0" cy="252.0" rx="3.6" ry="4.2" fill="#fff" stroke="#3c3c3c" stroke-width="0.66"/><ellipse cx="741.9" cy="252.4" rx="3.7" ry="4.2" fill="#dcdcdc" stroke="#3c3c3c" stroke-width="0.66"/>
<g fill="none" stroke="#0a7bff" stroke-width="4.2" stroke-linecap="round" stroke-linejoin="round"><path d="M754.4 258.0 L865.0 298.3" stroke-dasharray="8.5 7.55" stroke-dashoffset="-3.1"/><path d="M759.5 250.6 L754.4 258.0 L759.3 268.9"/></g>
<g fill="none" stroke="#0a7bff" stroke-width="4.2" stroke-linecap="round" stroke-linejoin="round"><path d="M578.2 304.6 L675.0 348.4" stroke-dasharray="8.5 7.55" stroke-dashoffset="-3.3"/><path d="M583.0 298.2 L578.2 304.6 L582.6 315.3"/></g>
<g fill="none" stroke="#0a7bff" stroke-width="4.2" stroke-linecap="round" stroke-linejoin="round"><path d="M444.9 336.5 L540.0 384.6" stroke-dasharray="8.5 7.55" stroke-dashoffset="-2.9"/><path d="M449.4 328.9 L444.9 336.5 L449.1 347.6"/></g>
<path d="M470.8 392.2 L985.8 259.3 L983.9 290.5 L471.7 427.6 Z" fill="#fff" stroke="#000" stroke-width="0.9" stroke-linejoin="round"/>
<path d="M472.9 398.2 Q470.0 394.8 468.1 396.9 L468.3 423.5 L471.7 427.1 L473.4 426.4 Z" fill="#fff" stroke="#111" stroke-width="0.8" stroke-linejoin="round"/>
<path d="M599.7 391.9 L830.3 330.5" fill="none" stroke="#c2c2c2" stroke-width="1.5"/>
<g fill="none" stroke="#000" stroke-width="0.85">
<path d="M473.4 394.3 L984.1 262.1"/>
<path d="M473.7 424.0 L982.5 288.9" stroke="#3a3a3a" stroke-width="0.75"/>
<path d="M983.9 262.1 L982.2 289.0"/>
</g>
<g fill="none" stroke="#3c3c3c" stroke-width="0.66" stroke-linejoin="round" stroke-linecap="round">
<path d="M 496.4 394.9 L 568.7 376.1 L 569.5 388.2 L 565.1 393.0 L 496.8 411.5 Z"/>
<path d="M 508.1 400.9 C 508.1 403.4 506.3 405.5 504.2 405.5 C 502.0 405.5 500.3 403.4 500.3 400.9 C 500.3 398.3 502.0 396.3 504.2 396.3 C 506.3 396.3 508.1 398.3 508.1 400.9 Z"/>
<path d="M 519.4 397.6 C 519.4 400.2 517.6 402.2 515.5 402.2 C 513.3 402.2 511.6 400.2 511.6 397.6 C 511.6 395.0 513.3 393.0 515.5 393.0 C 517.6 393.0 519.4 395.0 519.4 397.6 Z"/>
<path d="M 526.7 392.4 L 538.1 388.5" stroke="#666" stroke-width="4.6"/>
<path d="M 526.7 392.4 L 538.1 388.5" stroke="#fff" stroke-width="3.5"/>
<path d="M 526.7 398.7 L 538.1 394.8" stroke="#666" stroke-width="4.6"/>
<path d="M 526.7 398.7 L 538.1 394.8" stroke="#fff" stroke-width="3.5"/>
<path d="M 559.3 382.2 L 568.7 380.0 L 569.5 388.2 L 560.7 391.4 Z" fill="#e4e4e4" stroke="#666" stroke-width="0.6"/>
<path d="M 563.5 382.2 L 568.5 380.9 L 569.1 388.0 L 564.1 389.5 Z" fill="#fff" stroke="#666" stroke-width="0.5"/>
<path d="M 552.0 385.2 Q 552.0 382.6 554.4 382.2 L 558.7 381.7 Q 561.0 381.7 561.2 383.9 L 561.5 388.2 Q 561.5 390.7 559.3 391.2 L 555.0 391.6 Q 552.6 391.6 552.3 389.5 Z" fill="#fff" stroke="#222" stroke-width="1.1"/>
</g>
<path d="M593.1 378.8 L636.0 367.4" stroke="#1a1a1a" stroke-width="19.7" stroke-linecap="round" fill="none"/>
<path d="M593.1 378.8 L636.0 367.4" stroke="#f7a54c" stroke-width="17.8" stroke-linecap="round" fill="none"/>
<path d="M599.82 379.88 C599.12 384.30 595.50 387.40 591.73 386.80 C587.97 386.20 585.49 382.14 586.18 377.72 C586.88 373.30 590.50 370.20 594.27 370.80 C598.03 371.40 600.51 375.46 599.82 379.88 Z" fill="#fff" stroke="#1a1a1a" stroke-width="1"/>
<g fill="#fff" stroke="#555" stroke-width="0.6" stroke-linejoin="round">
<path d="M605.5 373.2 L609.5 372.1 L609.7 376.7 L605.6 377.8 Z"/>
<path d="M609.5 372.1 L610.6 371.9 L610.8 376.4 L609.7 376.7 Z" fill="#ddd" stroke="none"/>
<path d="M610.2 370.7 L619.4 368.3 L619.6 375.3 L610.4 377.7 Z"/>
<path d="M619.8 369.4 L627.4 367.4 L627.5 371.4 L620.0 373.3 Z"/>
<path d="M620.9 362.2 L625.2 361.0 L625.3 362.8 L621.0 363.9 Z"/>
<path d="M621.2 377.7 L625.5 376.6 L625.5 378.5 L621.2 379.7 Z"/>
<path d="M632.7 366.5 L637.7 365.2 L637.8 368.3 L632.8 369.6 Z"/>
<path d="M641.3 365.0 L648.8 363.0 L648.9 365.5 L641.4 367.5 Z" stroke="none"/>
<path d="M645.2 364.0 L641.3 365.0 L641.4 367.5 L645.3 366.5" fill="none" stroke="#1a1a1a" stroke-width="1"/>
</g>
<g fill="none" stroke="#3c3c3c" stroke-width="0.66" stroke-linejoin="round" stroke-linecap="round">
<path d="M 667.4 358.0 C 667.9 360.1 666.4 362.3 664.0 363.0 C 661.6 363.6 659.2 362.4 658.7 360.4 C 658.1 358.3 659.6 356.1 662.0 355.5 C 664.4 354.8 666.8 356.0 667.4 358.0 Z"/>
<path d="M 660.9 361.9 C 660.3 365.2 657.4 367.4 654.4 366.9 C 651.4 366.4 649.5 363.3 650.1 360.0 C 650.7 356.7 653.6 354.4 656.5 354.9 C 659.5 355.5 661.4 358.6 660.9 361.9 Z" fill="#fff"/>
<path d="M 603.4 364.1 L 659.4 348.9 C 666.0 347.3 669.1 350.9 670.9 355.8 C 672.7 361.3 674.6 363.7 680.0 363.1 L 722.0 352.8"/>
<path d="M 601.0 387.7 L 601.9 390.1 L 720.8 358.2"/>
</g>
<g fill="none" stroke="#3c3c3c" stroke-width="0.66" stroke-linejoin="round" stroke-linecap="round">
<path d="M 717.2 336.0 L 721.4 334.8 L 721.7 336.5 L 745.1 325.0 L 744.5 324.3 L 756.1 321.5 L 756.7 325.3 L 746.9 328.2 L 726.6 336.5 L 726.9 349.2 L 717.2 352.3 Z" fill="#fff"/>
<path d="M 717.8 337.4 L 721.5 336.5 M 720.8 336.7 L 720.9 348.4 M 723.2 336.5 L 723.2 341.9 M 726.6 336.5 L 726.6 342.8"/>
<path d="M 720.9 342.6 L 737.2 341.3 C 736.9 344.4 735.4 346.8 732.4 348.0 L 726.9 349.2 M 737.2 341.3 L 746.3 340.1"/>
<path d="M 767.7 345.2 L 767.6 340.4 Q 767.4 339.1 768.8 338.9 L 801.0 330.9 L 819.3 331.9 L 819.9 332.8 L 768.8 346.1 Q 767.7 346.2 767.7 345.2 Z" stroke="none" fill="#fff"/>
<path d="M 768.8 346.1 Q 767.7 346.2 767.7 345.2 L 767.6 340.4 Q 767.4 339.1 768.8 338.9 L 801.0 330.9"/>
<path d="M 768.8 346.1 L 819.9 332.6" stroke="#111" stroke-width="1.1"/>
<path d="M 796.4 323.3 C 798.6 318.2 805.9 313.1 812.0 312.4 L 818.1 312.2 C 819.9 312.2 820.5 313.4 820.3 315.2 L 819.3 329.8 C 819.0 331.1 818.8 331.9 818.1 332.3 L 801.0 330.4 Z" stroke="none" fill="#fff"/>
<path d="M 796.4 323.3 C 798.6 318.2 805.9 313.1 812.0 312.4 L 818.1 312.2 C 819.9 312.2 820.5 313.4 820.3 315.2 L 819.3 329.8 C 819.0 331.1 818.8 331.9 818.1 332.6"/>
<path d="M 746.1 335.3 C 746.1 331.9 747.8 329.8 751.2 328.9 L 768.2 321.4 C 775.5 320.4 785.2 320.9 790.1 321.9 L 796.4 323.3 C 799.2 324.1 801.3 326.1 800.3 329.2 Q 799.8 331.0 797.4 331.4 L 777.9 335.5 L 762.1 338.9 L 753.6 346.9 L 748.5 347.2 C 746.6 347.2 745.7 346.2 745.7 344.4 Z" fill="#fff"/>
<path d="M 786.4 329.5 C 785.8 332.6 783.1 334.7 780.4 334.2 C 777.6 333.7 775.8 330.8 776.3 327.7 C 776.9 324.6 779.6 322.5 782.3 322.9 C 785.1 323.4 786.9 326.4 786.4 329.5 Z"/>
<path d="M 814.5 323.8 C 814.2 325.4 812.9 326.5 811.5 326.2 C 810.1 326.0 809.2 324.5 809.5 322.9 C 809.8 321.3 811.1 320.2 812.5 320.5 C 813.9 320.7 814.8 322.2 814.5 323.8 Z"/>
<path d="M 762.1 336.2 C 762.1 337.1 761.5 337.8 760.7 337.8 C 759.9 337.8 759.2 337.1 759.2 336.2 C 759.2 335.4 759.9 334.7 760.7 334.7 C 761.5 334.7 762.1 335.4 762.1 336.2 Z"/>
<path d="M 753.4 332.6 L 761.2 331.0 L 761.7 333.4 L 759.2 335.3 L 753.6 334.7 Z"/>
<path d="M 791.6 323.1 L 791.6 331.0 M 745.7 340.7 L 762.1 338.7"/>
<path d="M 798.0 324.1 C 801.0 319.5 807.1 315.6 812.6 315.1 L 816.2 316.0 M 801.0 325.3 C 802.9 321.9 807.1 318.8 811.0 318.2"/>
</g>
<g fill="#fff" stroke="#3c3c3c" stroke-width="0.66" stroke-linejoin="round">
<path d="M 932.5 288.3 L 947.3 284.7 L 947.9 294.5 L 944.8 292.6 L 935.8 294.9 L 932.9 298.0 Z"/>
<path d="M 965.2 284.9 L 975.6 282.0 L 976.2 289.9 L 973.9 288.3 L 967.9 289.9 L 965.6 292.6 Z"/>
</g>
<g stroke="#3c3c3c" stroke-width="0.66" fill="#fff">
<path d="M 695.9 350.5 C 695.9 352.7 694.2 354.5 692.1 354.5 C 690.0 354.5 688.3 352.7 688.3 350.5 C 688.3 348.3 690.0 346.5 692.1 346.5 C 694.2 346.5 695.9 348.3 695.9 350.5 Z"/>
<path d="M 689.6 353.6 C 689.6 356.5 687.5 358.8 684.8 358.8 C 682.1 358.8 680.0 356.5 680.0 353.6 C 680.0 350.7 682.1 348.4 684.8 348.4 C 687.5 348.4 689.6 350.7 689.6 353.6 Z"/>
<path d="M 692.1 350.6 C 692.7 352.2 691.8 354.1 690.0 354.8 C 688.2 355.5 686.2 354.8 685.6 353.2 C 684.9 351.6 685.9 349.7 687.6 349.0 C 689.4 348.3 691.4 349.0 692.1 350.6 Z" stroke="none"/>
</g>
<g stroke="#3c3c3c" stroke-width="0.66" fill="#fff">
<path d="M 885.5 300.6 C 885.5 302.7 883.9 304.4 881.9 304.4 C 879.9 304.4 878.3 302.7 878.3 300.6 C 878.3 298.5 879.9 296.8 881.9 296.8 C 883.9 296.8 885.5 298.5 885.5 300.6 Z"/>
<path d="M 879.9 303.5 C 879.9 306.4 877.8 308.7 875.1 308.7 C 872.5 308.7 870.3 306.4 870.3 303.5 C 870.3 300.6 872.5 298.3 875.1 298.3 C 877.8 298.3 879.9 300.6 879.9 303.5 Z"/>
<path d="M 881.9 300.7 C 882.5 302.2 881.6 304.0 880.0 304.6 C 878.2 305.3 876.4 304.7 875.8 303.1 C 875.2 301.6 876.0 299.9 877.7 299.2 C 879.4 298.5 881.3 299.1 881.9 300.7 Z" stroke="none"/>
</g>
<g fill="none" stroke="#0a7bff" stroke-width="4.2" stroke-linecap="round"><path d="M875.0 302.2 L972.6 337.6" stroke-dasharray="8.5 7.55" stroke-dashoffset="124.1"/></g>
<g fill="none" stroke="#0a7bff" stroke-width="4.2" stroke-linecap="round"><path d="M684.4 353.0 L778.3 395.1" stroke-dasharray="8.5 7.55" stroke-dashoffset="112.2"/></g>
<g fill="none" stroke="#0a7bff" stroke-width="4.2" stroke-linecap="round"><path d="M554.0 391.6 L642.4 436.3" stroke-dasharray="8.5 7.55" stroke-dashoffset="117.5"/></g>
<path d="M432.8 346.8 L432.8 495.2 L564.7 495.2" fill="none" stroke="#7a7a7a" stroke-width="2.4"/>
<g style="filter:grayscale(1)"><text x="571.7" y="504.1" font-family="'Liberation Sans', sans-serif" font-size="27.4" fill="#000" textLength="223.4" lengthAdjust="spacingAndGlyphs">Síntartó oszlopok</text></g>
</svg>
</body></html>
